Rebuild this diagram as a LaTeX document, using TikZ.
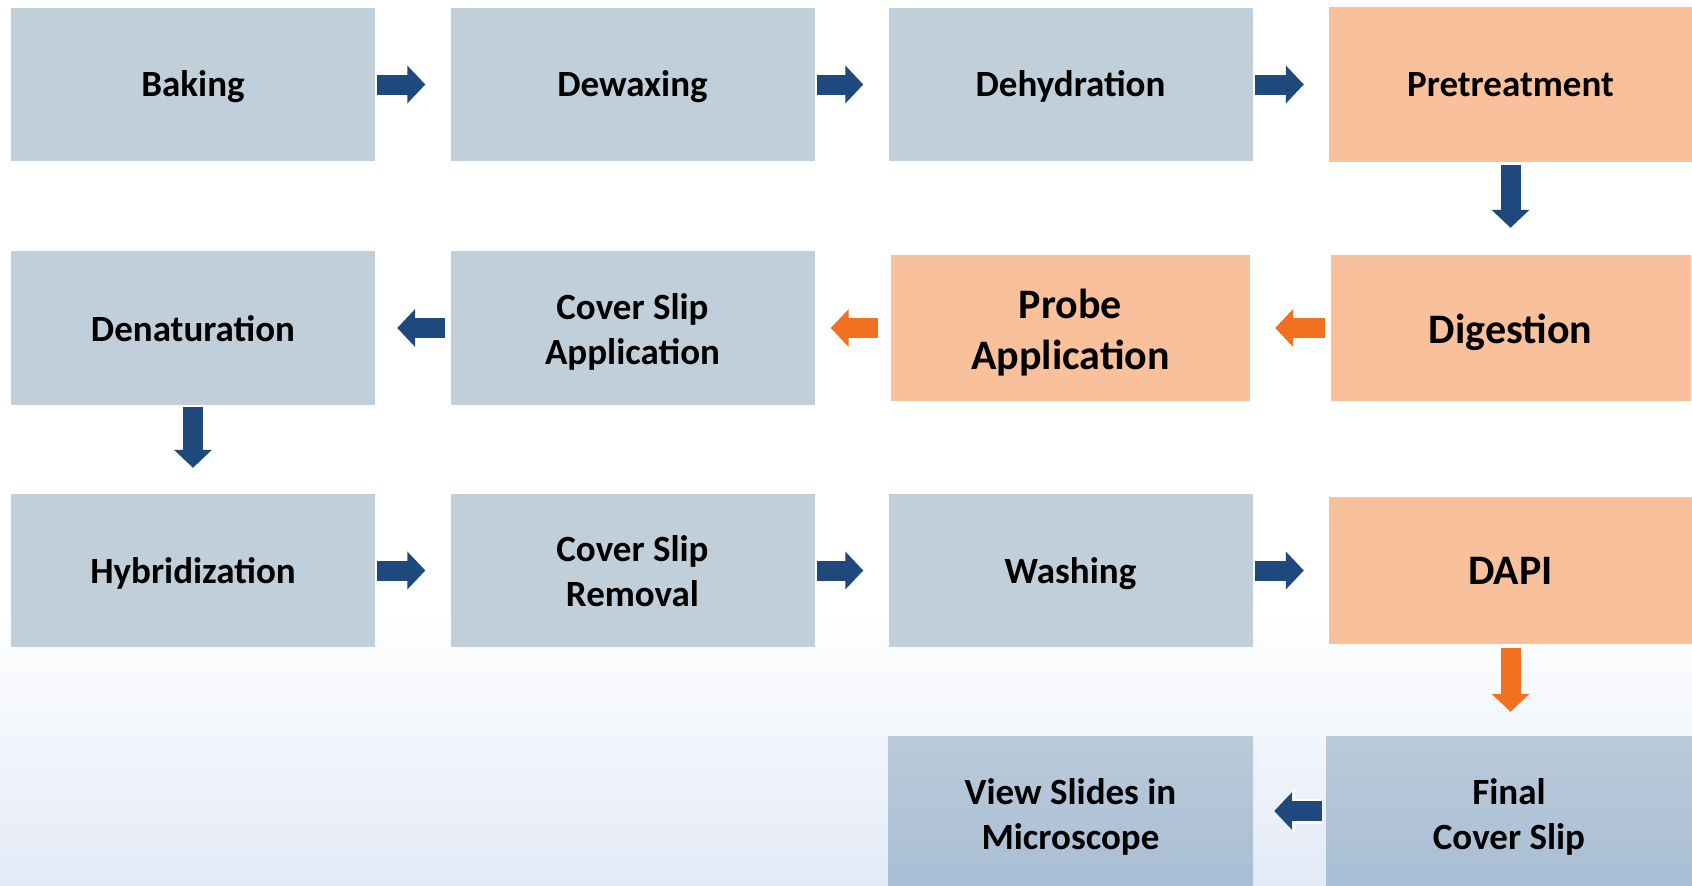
\documentclass[tikz,border=0pt]{standalone}
\usepackage{fontspec}
\setmainfont{Carlito}
\usetikzlibrary{arrows.meta}
\definecolor{boxblue}{RGB}{192,207,217}
\definecolor{boxorange}{RGB}{249,192,156}
\definecolor{arrblue}{RGB}{31,73,125}
\definecolor{arrorange}{RGB}{243,112,33}
\definecolor{bgblue}{RGB}{227,234,246}
\definecolor{fintop}{RGB}{186,202,217}
\definecolor{finbot}{RGB}{169,190,213}
\newcommand\lowtxt[2]{\raisebox{-#1}[\height][\depth]{\begin{tabular}{@{}c@{}}#2\end{tabular}}}
\begin{document}
\begin{tikzpicture}[x=1pt,y=-1pt,
  box/.style={minimum width=364pt, minimum height=153pt, inner sep=0pt,
    font=\bfseries\fontsize{37}{45}\selectfont, text=black},
  bluebox/.style={box, fill=boxblue},
  orangebox/.style={box, fill=boxorange},
  bigtext/.style={font=\bfseries\fontsize{42}{51}\selectfont},
  finalbox/.style={box, top color=fintop, bottom color=finbot},
  flow/.style={draw=#1, line width=20pt, -{Triangle[length=18pt,width=37pt]},
    preaction={draw=white, line width=25pt, -{Triangle[length=21pt,width=44pt]}}}
]
\useasboundingbox (0,0) rectangle (1692,886);
\fill[white] (0,0) rectangle (1692,886);
\shade[top color=white, bottom color=bgblue] (0,610) rectangle (1692,886);

% row 1
\node[bluebox] (bak) at (193,84.5) {\lowtxt{2.5pt}{Baking}};
\node[bluebox] (dew) at (632.5,84.5) {\lowtxt{2.5pt}{Dewaxing}};
\node[bluebox] (deh) at (1070.5,84.5) {\lowtxt{2.5pt}{Dehydration}};
\node[orangebox, minimum width=363pt, minimum height=155pt] (pre) at (1510.5,84.5) {\lowtxt{2.5pt}{Pretreatment}};
% row 2
\node[orangebox, bigtext, minimum width=360pt, minimum height=146pt] (dig) at (1510.5,328) {\lowtxt{5pt}{Digestion}};
\node[orangebox, bigtext, minimum width=359pt, minimum height=146pt] (prb) at (1070.5,328) {\lowtxt{6pt}{Probe\\Application}};
\node[bluebox, minimum height=154pt] (csa) at (632.5,328) {\lowtxt{4.5pt}{Cover Slip\\Application}};
\node[bluebox, minimum height=154pt] (den) at (193,328) {\lowtxt{4.5pt}{Denaturation}};
% row 3
\node[bluebox] (hyb) at (193,570.5) {\lowtxt{3.5pt}{Hybridization}};
\node[bluebox] (csr) at (632.5,570.5) {\lowtxt{4pt}{Cover Slip\\Removal}};
\node[bluebox] (was) at (1070.5,570.5) {\lowtxt{3.5pt}{Washing}};
\node[orangebox, bigtext, minimum width=363pt, minimum height=147pt] (dap) at (1510.5,570.5) {\lowtxt{4pt}{DAPI}};
% row 4
\node[finalbox, minimum width=366pt, minimum height=150pt] (fin) at (1509,811) {\lowtxt{6.5pt}{Final\\Cover Slip}};
\node[finalbox, minimum width=365pt, minimum height=150pt] (vie) at (1070.5,811) {\lowtxt{6.5pt}{View Slides in\\Microscope}};

% connectors
\draw[flow=arrblue] ([xshift=2pt]bak.east) -- ([xshift=-25pt]dew.west);
\draw[flow=arrblue] ([xshift=2pt]dew.east) -- ([xshift=-25pt]deh.west);
\draw[flow=arrblue] ([xshift=2pt]deh.east) -- ([xshift=-25pt]pre.west);
\draw[flow=arrblue] ([yshift=-3pt]pre.south) -- ([yshift=27pt]dig.north);
\draw[flow=arrorange] ([xshift=-5pt]dig.west) -- ([xshift=25pt]prb.east);
\draw[flow=arrorange] ([xshift=-13pt]prb.west) -- ([xshift=16pt]csa.east);
\draw[flow=arrblue] ([xshift=-5pt]csa.west) -- ([xshift=22pt]den.east);
\draw[flow=arrblue] ([yshift=-2pt]den.south) -- ([yshift=26pt]hyb.north);
\draw[flow=arrblue] ([xshift=2pt]hyb.east) -- ([xshift=-25pt]csr.west);
\draw[flow=arrblue] ([xshift=2pt]csr.east) -- ([xshift=-25pt]was.west);
\draw[flow=arrblue] ([xshift=2pt]was.east) -- ([xshift=-25pt]dap.west);
\draw[flow=arrorange] ([yshift=-4pt]dap.south) -- ([yshift=24pt]dap.south |- fin.north);
\draw[flow=arrblue] ([xshift=-4pt]fin.west) -- ([xshift=21pt]vie.east);
\end{tikzpicture}
\end{document}
